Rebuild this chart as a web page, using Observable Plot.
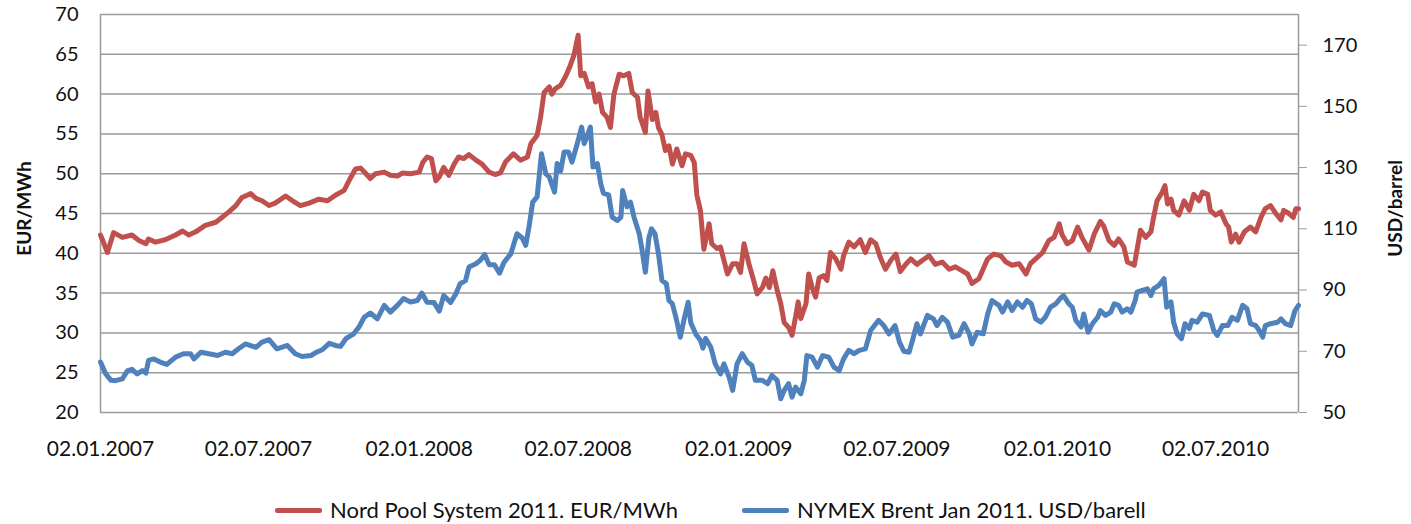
<!DOCTYPE html>
<html><head><meta charset="utf-8">
<script src="https://cdn.jsdelivr.net/npm/d3@7"></script>
<script src="https://cdn.jsdelivr.net/npm/@observablehq/plot@0.6"></script>
<style>
body{margin:0;background:#fff;font-family:Lato,"Open Sans",sans-serif;}
#chart{width:1411px;height:486px}
#legend{position:relative;width:1411px;height:38px}
.item{position:absolute;top:12px;display:flex;align-items:flex-start;font-size:22px;line-height:24px;color:#111;white-space:nowrap}
.sw{width:47px;height:5px;margin-top:10px;margin-right:8px;border-radius:2px}
</style></head><body>
<div id="chart"></div>
<div id="legend"></div>
<script>
const seriesNames = ["Nord Pool System 2011. EUR/MWh", "NYMEX Brent Jan 2011. USD/barell"];
const seriesColors = ["#C0504D", "#4F81BD"];
const leftTicks = [20,25,30,35,40,45,50,55,60,65,70];
const rightTicks = [50,70,90,110,130,150,170];
const xTickDates = ["2007-01-02","2007-07-02","2008-01-02","2008-07-02","2009-01-02","2009-07-02","2010-01-02","2010-07-02"];

const redDates = ["2007-01-02","2007-01-10","2007-01-17","2007-01-27","2007-02-07","2007-02-15","2007-02-23","2007-02-26","2007-03-06","2007-03-17","2007-03-29","2007-04-06","2007-04-13","2007-04-21","2007-05-02","2007-05-14","2007-05-21","2007-05-29","2007-06-06","2007-06-13","2007-06-17","2007-06-23","2007-06-29","2007-07-06","2007-07-14","2007-07-21","2007-08-02","2007-08-10","2007-08-19","2007-08-29","2007-09-09","2007-09-19","2007-09-28","2007-10-08","2007-10-15","2007-10-21","2007-10-27","2007-11-02","2007-11-07","2007-11-13","2007-11-23","2007-11-30","2007-12-08","2007-12-14","2007-12-23","2008-01-02","2008-01-06","2008-01-11","2008-01-16","2008-01-21","2008-01-25","2008-01-30","2008-02-05","2008-02-11","2008-02-16","2008-02-22","2008-02-28","2008-03-07","2008-03-14","2008-03-22","2008-03-29","2008-04-04","2008-04-10","2008-04-19","2008-04-27","2008-05-05","2008-05-09","2008-05-16","2008-05-20","2008-05-24","2008-05-30","2008-06-02","2008-06-06","2008-06-12","2008-06-18","2008-06-23","2008-06-27","2008-07-02","2008-07-05","2008-07-09","2008-07-14","2008-07-18","2008-07-22","2008-07-26","2008-07-30","2008-08-04","2008-08-08","2008-08-12","2008-08-18","2008-08-23","2008-08-29","2008-09-02","2008-09-08","2008-09-11","2008-09-17","2008-09-20","2008-09-25","2008-09-29","2008-10-02","2008-10-06","2008-10-10","2008-10-14","2008-10-18","2008-10-23","2008-10-29","2008-11-02","2008-11-08","2008-11-12","2008-11-15","2008-11-19","2008-11-23","2008-11-29","2008-12-02","2008-12-08","2008-12-12","2008-12-16","2008-12-20","2008-12-26","2008-12-31","2009-01-04","2009-01-08","2009-01-14","2009-01-19","2009-01-23","2009-01-29","2009-02-02","2009-02-06","2009-02-10","2009-02-15","2009-02-19","2009-02-23","2009-02-28","2009-03-04","2009-03-08","2009-03-11","2009-03-14","2009-03-20","2009-03-23","2009-03-27","2009-03-31","2009-04-04","2009-04-09","2009-04-13","2009-04-17","2009-04-23","2009-04-29","2009-05-02","2009-05-08","2009-05-14","2009-05-21","2009-05-27","2009-06-02","2009-06-08","2009-06-13","2009-06-19","2009-06-25","2009-07-01","2009-07-06","2009-07-12","2009-07-18","2009-07-25","2009-07-31","2009-08-08","2009-08-15","2009-08-23","2009-08-31","2009-09-07","2009-09-15","2009-09-21","2009-09-26","2009-10-04","2009-10-10","2009-10-14","2009-10-21","2009-10-29","2009-11-04","2009-11-11","2009-11-19","2009-11-27","2009-12-02","2009-12-08","2009-12-16","2009-12-23","2009-12-29","2010-01-04","2010-01-07","2010-01-13","2010-01-19","2010-01-25","2010-01-30","2010-02-07","2010-02-13","2010-02-20","2010-02-24","2010-03-02","2010-03-08","2010-03-13","2010-03-19","2010-03-23","2010-03-31","2010-04-03","2010-04-07","2010-04-13","2010-04-19","2010-04-22","2010-04-26","2010-05-02","2010-05-05","2010-05-08","2010-05-12","2010-05-15","2010-05-21","2010-05-27","2010-06-02","2010-06-07","2010-06-13","2010-06-17","2010-06-23","2010-06-26","2010-07-02","2010-07-08","2010-07-14","2010-07-17","2010-07-20","2010-07-25","2010-07-29","2010-08-04","2010-08-11","2010-08-17","2010-08-23","2010-08-28","2010-09-03","2010-09-09","2010-09-15","2010-09-18","2010-09-24","2010-09-29","2010-10-02","2010-10-05"];
const redValues = [42.3,40.1,42.6,42.0,42.3,41.6,41.2,41.8,41.4,41.7,42.3,42.8,42.3,42.7,43.5,43.9,44.5,45.2,46.0,47.0,47.2,47.5,46.9,46.6,46.0,46.3,47.2,46.6,46.0,46.3,46.8,46.6,47.3,47.9,49.4,50.6,50.7,50.0,49.4,50.0,50.2,49.8,49.7,50.1,50.0,50.2,51.4,52.1,51.9,49.1,49.6,50.8,49.8,51.2,52.1,51.9,52.4,51.7,51.2,50.2,49.9,50.1,51.5,52.5,51.7,52.1,53.8,54.8,57.1,60.2,60.9,60.0,60.7,61.1,62.3,63.6,64.8,67.4,62.3,62.6,60.9,61.3,59.0,60.0,57.7,57.1,55.8,60.0,62.5,62.3,62.6,60.2,59.6,57.1,55.2,60.4,56.8,57.7,55.8,54.9,52.9,53.5,51.2,53.1,51.0,52.5,52.3,51.4,47.3,45.4,40.5,43.7,41.2,40.6,40.8,39.1,37.4,38.7,38.7,37.6,41.2,38.5,36.6,34.9,35.7,36.9,35.7,37.8,35.3,33.7,31.3,30.7,29.7,32.0,33.9,31.8,33.7,37.4,35.7,34.5,36.9,37.2,36.6,40.1,39.3,38.0,39.7,41.4,40.8,41.7,40.1,41.7,41.2,39.5,38.0,39.1,39.9,37.7,38.6,39.3,38.6,39.1,39.7,38.6,38.9,38.0,38.3,37.8,37.4,36.2,36.8,38.3,39.3,39.9,39.7,38.9,38.5,38.7,37.4,38.7,39.3,40.1,41.6,42.0,43.7,42.4,41.2,41.6,43.3,42.0,40.4,42.4,44.0,43.4,41.6,41.0,41.8,40.8,38.9,38.5,40.4,42.9,42.0,42.7,44.5,46.6,47.7,48.5,46.2,46.8,45.4,44.8,46.6,45.4,47.4,46.6,47.7,47.4,45.4,44.8,45.2,43.7,43.3,41.4,42.4,41.4,42.7,43.3,42.7,44.5,45.6,46.0,45.0,44.2,45.4,45.0,44.5,45.6,45.6];

const blueDates = ["2007-01-02","2007-01-08","2007-01-14","2007-01-19","2007-01-27","2007-02-02","2007-02-07","2007-02-13","2007-02-19","2007-02-23","2007-02-26","2007-03-04","2007-03-12","2007-03-19","2007-03-29","2007-04-07","2007-04-15","2007-04-19","2007-04-27","2007-05-06","2007-05-16","2007-05-25","2007-06-02","2007-06-09","2007-06-17","2007-06-29","2007-07-06","2007-07-14","2007-07-23","2007-08-04","2007-08-13","2007-08-21","2007-08-31","2007-09-05","2007-09-13","2007-09-21","2007-09-28","2007-10-04","2007-10-10","2007-10-19","2007-10-25","2007-10-31","2007-11-07","2007-11-15","2007-11-23","2007-11-30","2007-12-08","2007-12-15","2007-12-23","2007-12-31","2008-01-05","2008-01-11","2008-01-19","2008-01-25","2008-01-30","2008-02-07","2008-02-13","2008-02-18","2008-02-24","2008-02-28","2008-03-07","2008-03-12","2008-03-17","2008-03-22","2008-03-28","2008-04-03","2008-04-08","2008-04-16","2008-04-23","2008-04-29","2008-05-03","2008-05-07","2008-05-11","2008-05-16","2008-05-21","2008-05-26","2008-05-30","2008-06-05","2008-06-08","2008-06-12","2008-06-16","2008-06-21","2008-06-25","2008-07-01","2008-07-06","2008-07-09","2008-07-12","2008-07-16","2008-07-19","2008-07-24","2008-07-28","2008-07-31","2008-08-06","2008-08-10","2008-08-16","2008-08-20","2008-08-22","2008-08-27","2008-08-31","2008-09-04","2008-09-10","2008-09-13","2008-09-17","2008-09-21","2008-09-24","2008-09-28","2008-10-02","2008-10-06","2008-10-11","2008-10-14","2008-10-18","2008-10-22","2008-10-27","2008-10-31","2008-11-05","2008-11-08","2008-11-14","2008-11-19","2008-11-22","2008-11-25","2008-12-01","2008-12-06","2008-12-12","2008-12-16","2008-12-22","2008-12-26","2008-12-31","2009-01-06","2009-01-12","2009-01-17","2009-01-21","2009-01-29","2009-02-04","2009-02-09","2009-02-15","2009-02-19","2009-02-23","2009-02-28","2009-03-04","2009-03-08","2009-03-14","2009-03-18","2009-03-21","2009-03-27","2009-04-02","2009-04-08","2009-04-15","2009-04-21","2009-04-27","2009-05-02","2009-05-08","2009-05-14","2009-05-20","2009-05-27","2009-06-02","2009-06-08","2009-06-11","2009-06-17","2009-06-23","2009-06-30","2009-07-05","2009-07-10","2009-07-16","2009-07-20","2009-07-25","2009-07-29","2009-08-06","2009-08-13","2009-08-17","2009-08-23","2009-08-29","2009-09-04","2009-09-11","2009-09-17","2009-09-23","2009-09-26","2009-10-02","2009-10-09","2009-10-14","2009-10-19","2009-10-27","2009-10-31","2009-11-06","2009-11-11","2009-11-17","2009-11-23","2009-11-28","2009-12-03","2009-12-08","2009-12-14","2009-12-19","2009-12-25","2009-12-31","2010-01-06","2010-01-09","2010-01-15","2010-01-19","2010-01-23","2010-01-29","2010-02-01","2010-02-06","2010-02-11","2010-02-17","2010-02-20","2010-02-26","2010-03-04","2010-03-08","2010-03-13","2010-03-17","2010-03-23","2010-03-27","2010-04-01","2010-04-03","2010-04-09","2010-04-15","2010-04-19","2010-04-22","2010-04-28","2010-05-04","2010-05-07","2010-05-12","2010-05-15","2010-05-19","2010-05-24","2010-05-28","2010-06-02","2010-06-05","2010-06-11","2010-06-17","2010-06-25","2010-06-30","2010-07-04","2010-07-10","2010-07-16","2010-07-21","2010-07-27","2010-08-02","2010-08-07","2010-08-11","2010-08-17","2010-08-21","2010-08-25","2010-08-28","2010-09-03","2010-09-11","2010-09-15","2010-09-20","2010-09-26","2010-10-01","2010-10-05"];
const blueValues = [66.5,62.6,60.5,60.4,61.0,63.7,64.1,62.6,63.7,62.9,67.0,67.5,66.4,65.7,68.1,69.2,69.2,67.5,69.7,69.2,68.6,69.7,69.2,70.8,72.4,71.3,73.0,73.8,70.8,71.9,69.2,68.3,68.6,69.5,70.5,72.6,71.9,71.6,74.1,75.7,77.9,81.1,82.5,80.6,85.0,82.8,85.0,87.2,86.1,86.6,89.0,86.0,85.9,83.1,88.2,85.9,88.8,92.1,93.1,97.5,98.6,99.7,101.6,98.3,98.3,95.5,99.0,101.9,108.4,107.0,104.6,111.1,118.7,120.4,134.5,128.0,126.9,122.0,131.3,128.9,135.1,135.1,131.8,137.8,143.2,137.8,140.0,143.2,130.2,131.3,124.7,121.6,121.1,113.8,112.7,113.8,122.5,117.2,118.7,113.8,108.4,103.5,95.8,107.0,110.0,108.4,101.9,93.1,92.1,86.6,85.5,81.1,74.6,80.0,86.0,79.3,75.5,73.6,71.0,74.2,71.3,65.9,62.6,65.9,61.5,57.2,65.9,69.2,66.4,65.4,60.5,60.5,59.4,62.1,60.5,54.5,57.2,59.4,55.0,58.3,56.1,60.5,68.6,68.1,64.8,68.6,68.1,64.8,63.7,67.5,70.3,69.2,70.3,70.8,76.8,79.0,80.1,78.4,75.7,78.4,73.0,70.0,69.7,73.6,79.0,75.7,81.7,80.6,78.4,81.1,79.5,74.6,75.2,79.0,75.7,72.4,76.2,75.7,82.2,86.6,85.0,82.8,86.1,83.3,86.1,84.4,86.6,85.5,80.6,79.5,81.1,84.4,85.5,87.5,88.2,85.5,84.4,80.1,77.9,82.2,76.2,79.0,81.1,83.3,81.7,82.8,85.5,85.0,82.8,83.9,82.8,86.6,89.3,89.9,90.4,88.2,90.4,91.5,93.7,84.4,86.1,79.5,75.7,74.1,79.0,77.4,80.1,79.5,82.2,81.7,76.8,75.2,78.4,78.4,81.1,80.1,85.0,83.9,79.0,78.4,76.8,74.6,78.4,79.0,79.5,80.6,79.0,78.4,83.3,85.0];

const red = redDates.map((d, i) => ({date: new Date(d), value: redValues[i]}));
const blue = blueDates.map((d, i) => ({date: new Date(d), value: blueValues[i]}));
const xStart = new Date(redDates[0]);
const xEnd = new Date(redDates[redDates.length - 1]);
const xTicks = xTickDates.map(d => new Date(d));

// right axis (USD) mapped onto the left (EUR) scale: 50..180 <-> 20..70
const R0 = 50, R1 = 180;
const toLeft = v => 20 + (v - R0) * 50 / (R1 - R0);
const fromLeft = y => Math.round(R0 + (y - 20) * (R1 - R0) / 50);

const grey = "#9a9a9a";
const chart = Plot.plot({
  width: 1411, height: 486,
  marginLeft: 100, marginRight: 113, marginTop: 14, marginBottom: 74,
  style: {fontFamily: "Lato, 'Open Sans', sans-serif", fontSize: "20px", color: "#111", background: "#fff"},
  x: {type: "utc", domain: [xStart, xEnd]},
  y: {domain: [20, 70]},
  marks: [
    Plot.gridY(leftTicks, {stroke: grey, strokeOpacity: 1, strokeWidth: 1.5}),
    Plot.ruleX([xStart], {stroke: grey, strokeWidth: 1.5}),
    Plot.ruleX([xEnd], {stroke: grey, strokeWidth: 1.5}),
    Plot.axisY(leftTicks, {anchor: "left", tickSize: 0, tickPadding: 22, label: null}),
    Plot.axisY(rightTicks.map(toLeft), {anchor: "right", tickSize: 8, tickPadding: 16, tickFormat: fromLeft, label: null, stroke: grey}),
    Plot.axisX(xTicks, {tickSize: 0, tickPadding: 29, tickFormat: d3.utcFormat("%d.%m.%Y"), label: null, fontSize: 21}),
    Plot.lineY(red, {x: "date", y: "value", stroke: seriesColors[0], strokeWidth: 5, strokeLinejoin: "round", strokeLinecap: "round"}),
    Plot.lineY(blue, {x: "date", y: d => toLeft(d.value), stroke: seriesColors[1], strokeWidth: 5, strokeLinejoin: "round", strokeLinecap: "round"}),
    Plot.text(["EUR/MWh"], {frameAnchor: "left", dx: -76, dy: -5, rotate: -90, textAnchor: "middle", fontWeight: "bold", fontSize: 19, fill: "#111"}),
    Plot.text(["USD/barrel"], {frameAnchor: "right", dx: 97, dy: -5, rotate: -90, textAnchor: "middle", fontWeight: "bold", fontSize: 19, fill: "#111"})
  ]
});
document.getElementById("chart").appendChild(chart);

const legend = document.getElementById("legend");
const lefts = [275, 742];
seriesNames.forEach((name, i) => {
  const item = document.createElement("div");
  item.className = "item";
  item.style.left = lefts[i] + "px";
  const sw = document.createElement("span");
  sw.className = "sw";
  sw.style.background = seriesColors[i];
  const t = document.createElement("span");
  t.textContent = name;
  item.appendChild(sw); item.appendChild(t);
  legend.appendChild(item);
});
</script>
</body></html>
